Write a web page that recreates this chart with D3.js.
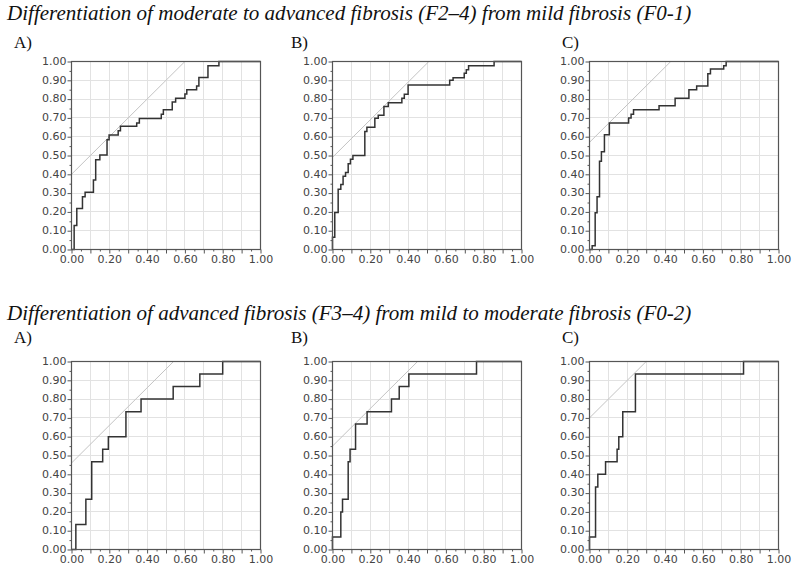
<!DOCTYPE html>
<html>
<head>
<meta charset="utf-8">
<script src="https://cdn.jsdelivr.net/npm/d3@7"></script>
<style>
  body { margin: 0; background: #fff; }
  svg { display: block; }
</style>
</head>
<body>
<svg id="chart" width="795" height="571"></svg>
<script>
// row titles and panel letters
const rowTitles = [
  'Differentiation of moderate to advanced fibrosis (F2\u20134) from mild fibrosis (F0-1)',
  'Differentiation of advanced fibrosis (F3\u20134) from mild to moderate fibrosis (F0-2)',
];
const panelLetters = ['A)', 'B)', 'C)'];

// axis ticks
const majorTicks = [0, 0.1, 0.2, 0.3, 0.4, 0.5, 0.6, 0.7, 0.8, 0.9, 1.0];
const minorTicks = [0.05, 0.15, 0.25, 0.35, 0.45, 0.55, 0.65, 0.75, 0.85, 0.95];
const xLabelTicks = [0, 0.2, 0.4, 0.6, 0.8, 1.0];

// ROC step vertices: 1-specificity where the curve jumps, sensitivity after the jump
const fprF2A = [0.014, 0.028, 0.058, 0.072, 0.116, 0.128, 0.15, 0.188, 0.199, 0.247, 0.259, 0.345, 0.359, 0.475, 0.486, 0.533, 0.551, 0.6, 0.61, 0.662, 0.674, 0.722, 0.78, 1.0];
const tprF2A = [0.127, 0.218, 0.28, 0.304, 0.37, 0.478, 0.503, 0.584, 0.609, 0.632, 0.655, 0.673, 0.697, 0.72, 0.743, 0.784, 0.805, 0.827, 0.85, 0.87, 0.915, 0.977, 1.0, 1.0];

const fprF2B = [0, 0.012, 0.03, 0.044, 0.056, 0.069, 0.083, 0.095, 0.108, 0.171, 0.182, 0.224, 0.242, 0.272, 0.295, 0.367, 0.38, 0.4, 0.62, 0.638, 0.697, 0.708, 0.72, 0.855, 1.0];
const tprF2B = [0.065, 0.197, 0.32, 0.346, 0.39, 0.41, 0.456, 0.48, 0.5, 0.627, 0.65, 0.698, 0.714, 0.76, 0.78, 0.805, 0.826, 0.875, 0.9, 0.913, 0.937, 0.956, 0.977, 1.0, 1.0];

const fprF2C = [0.014, 0.03, 0.04, 0.053, 0.063, 0.079, 0.105, 0.207, 0.22, 0.233, 0.368, 0.453, 0.526, 0.567, 0.626, 0.64, 0.71, 0.723, 1.0];
const tprF2C = [0.02, 0.195, 0.28, 0.47, 0.52, 0.61, 0.673, 0.7, 0.72, 0.743, 0.765, 0.805, 0.85, 0.87, 0.935, 0.96, 0.977, 1.0, 1.0];

const fprF3A = [0.023, 0.076, 0.107, 0.165, 0.195, 0.288, 0.368, 0.538, 0.679, 0.8, 1.0];
const tprF3A = [0.133, 0.267, 0.467, 0.533, 0.6, 0.733, 0.8, 0.867, 0.933, 1.0, 1.0];

const fprF3B = [0, 0.044, 0.053, 0.083, 0.093, 0.122, 0.183, 0.312, 0.353, 0.404, 0.762, 1.0];
const tprF3B = [0.067, 0.2, 0.267, 0.467, 0.533, 0.667, 0.733, 0.8, 0.867, 0.933, 1.0, 1.0];

const fprF3C = [0, 0.032, 0.044, 0.085, 0.146, 0.155, 0.176, 0.243, 0.815, 1.0];
const tprF3C = [0.067, 0.333, 0.4, 0.467, 0.533, 0.6, 0.733, 0.933, 1.0, 1.0];

// sensitivity at 0 where the 45-degree tangent line starts, per panel
const tangentIntercepts = [0.40, 0.49, 0.57, 0.46, 0.55, 0.70];

const curves = [
  [fprF2A, tprF2A], [fprF2B, tprF2B], [fprF2C, tprF2C],
  [fprF3A, tprF3A], [fprF3B, tprF3B], [fprF3C, tprF3C],
];

const svg = d3.select('#chart');
const colLeft = [71, 332, 589];
const rowTop = [61, 361];
const W = 189, H = 188;

const x = d3.scaleLinear().domain([0, 1]).range([0, W]);
const y = d3.scaleLinear().domain([0, 1]).range([H, 0]);

const fmt = d3.format('.2f');
const labelFont = "'DejaVu Sans', Verdana, sans-serif";

// titles, scaled to the width they take in the original
const titleY = [20, 320];
rowTitles.forEach((t, r) => {
  const el = svg.append('text')
    .attr('x', 7)
    .attr('y', titleY[r])
    .attr('font-family', "'Liberation Serif', 'Times New Roman', serif")
    .attr('font-style', 'italic')
    .attr('font-size', 20)
    .attr('fill', '#111')
    .text(t);
  const len = el.node().getComputedTextLength();
  el.attr('font-size', 20 * 685 / len);
});

const letterX = [14, 291, 562];
const letterY = [48, 343];

const line = d3.line()
  .x(d => x(d[0]))
  .y(d => y(d[1]))
  .curve(d3.curveStepAfter);

curves.forEach(([fpr, tpr], i) => {
  const r = Math.floor(i / 3), c = i % 3;

  svg.append('text')
    .attr('x', letterX[c])
    .attr('y', letterY[r])
    .attr('font-family', "'Liberation Serif', 'Times New Roman', serif")
    .attr('font-size', 17)
    .attr('fill', '#111')
    .text(panelLetters[c]);

  const g = svg.append('g')
    .attr('transform', `translate(${colLeft[c] + 0.5}, ${rowTop[r] + 0.5})`);

  // grid
  g.append('g')
    .selectAll('line.v')
    .data(majorTicks.slice(1, -1))
    .enter()
    .append('line')
    .attr('x1', d => Math.round(x(d)))
    .attr('x2', d => Math.round(x(d)))
    .attr('y1', 0)
    .attr('y2', H)
    .attr('stroke', '#e2e2e2');
  g.append('g')
    .selectAll('line.h')
    .data(majorTicks.slice(1, -1))
    .enter()
    .append('line')
    .attr('y1', d => Math.round(y(d)))
    .attr('y2', d => Math.round(y(d)))
    .attr('x1', 0)
    .attr('x2', W)
    .attr('stroke', '#e2e2e2');

  // tangent reference line
  const b = tangentIntercepts[i];
  g.append('line')
    .attr('x1', x(0))
    .attr('y1', y(b))
    .attr('x2', x(1 - b))
    .attr('y2', y(1))
    .attr('stroke', '#c4c4c4')
    .attr('stroke-width', 1);

  // ROC curve
  const pts = [[0, 0]].concat(fpr.map((f, k) => [f, tpr[k]]));
  g.append('path')
    .attr('d', line(pts))
    .attr('fill', 'none')
    .attr('stroke', '#333')
    .attr('stroke-width', 1.5);

  // frame
  g.append('rect')
    .attr('width', W)
    .attr('height', H)
    .attr('fill', 'none')
    .attr('stroke', '#555')
    .attr('stroke-width', 1.2);

  // axes
  const yAxis = g.append('g')
    .call(d3.axisLeft(y).tickValues(majorTicks).tickSize(4).tickPadding(1).tickFormat(fmt));
  g.append('g')
    .call(d3.axisLeft(y).tickValues(minorTicks).tickSize(2).tickFormat(''));
  const xAxis = g.append('g')
    .attr('transform', `translate(0, ${H})`)
    .call(d3.axisBottom(x).tickValues(majorTicks).tickSize(4).tickPadding(2)
      .tickFormat(d => xLabelTicks.some(v => Math.abs(v - d) < 1e-9) ? fmt(d) : ''));
  g.append('g')
    .attr('transform', `translate(0, ${H})`)
    .call(d3.axisBottom(x).tickValues(minorTicks).tickSize(2).tickFormat(''));

  g.selectAll('.domain').remove();
  g.selectAll('.tick line').attr('stroke', '#555');
  g.selectAll('.tick text')
    .attr('font-family', labelFont)
    .attr('font-size', 11)
    .attr('fill', '#444');
  yAxis.selectAll('.tick text').attr('dy', '0.25em');
});
</script>
</body>
</html>
